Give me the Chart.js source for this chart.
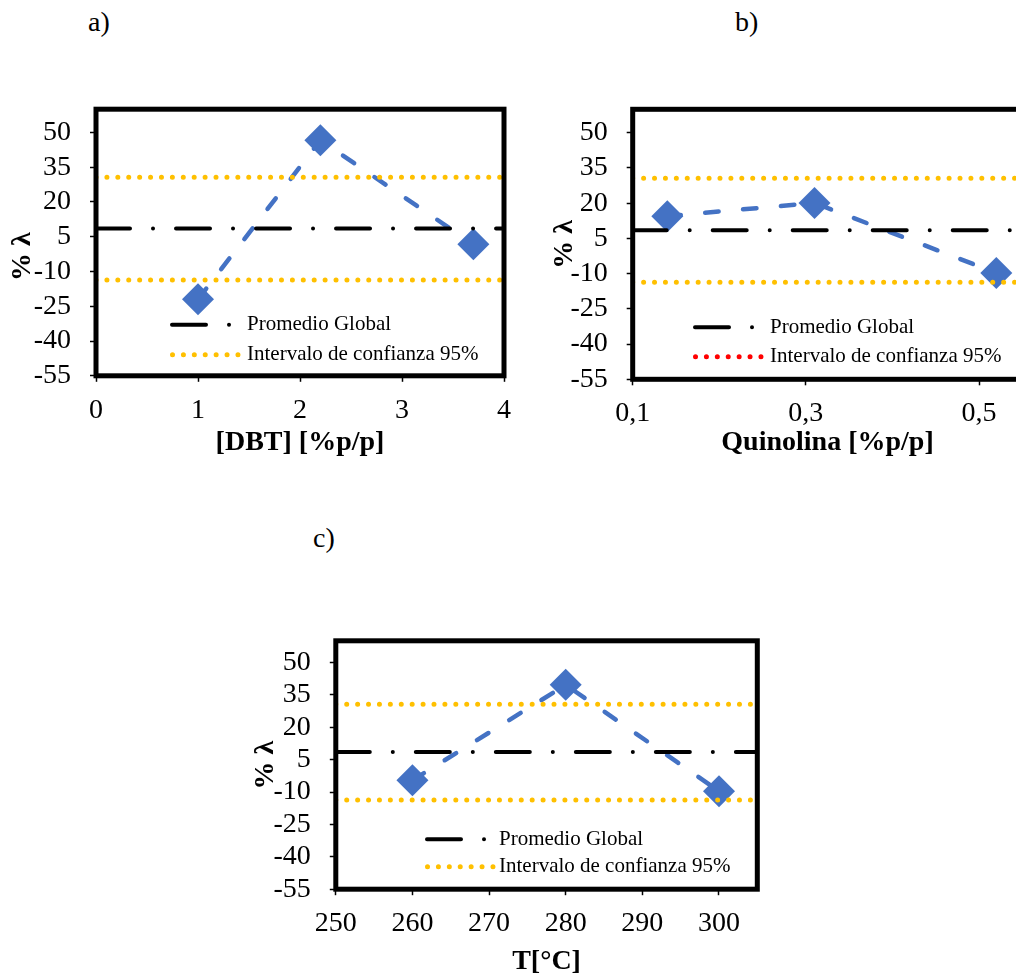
<!DOCTYPE html>
<html>
<head>
<meta charset="utf-8">
<script src="https://cdn.jsdelivr.net/npm/chart.js@4.4.1/dist/chart.umd.min.js"></script>
<style>
  html, body { margin: 0; padding: 0; background: #fff; }
  body { width: 1016px; height: 979px; overflow: hidden; position: relative; font-family: "Liberation Serif", "Times New Roman", serif; }
  canvas { position: absolute; }
  .tag { position: absolute; font-size: 28px; line-height: 28px; color: #000; white-space: nowrap; }
</style>
</head>
<body>
<div class="tag" style="left:88px; top:8px;">a)</div>
<div class="tag" style="left:735px; top:8px;">b)</div>
<div class="tag" style="left:313px; top:524px;">c)</div>

<canvas id="panelDBT" width="520" height="380" style="left:0px; top:90px;"></canvas>
<canvas id="panelQuin" width="500" height="380" style="left:540px; top:90px;"></canvas>
<canvas id="panelTemp" width="540" height="359" style="left:240px; top:620px;"></canvas>

<script>
// Shared response axis (% λ) and reference levels
const lambdaTicks = [-55, -40, -25, -10, 5, 20, 35, 50];
const lambdaMin = -55;
const lambdaMax = 60;
const globalMean = 8.5;
const ciUpper = 30.6;
const ciLower = -13.7;

// a) DBT concentration
const dbtValues = [1, 2.2, 3.7];
const dbtLambda = [-22, 46.6, 1.7];
const dbtTicks = [0, 1, 2, 3, 4];
const dbtTickLabels = ['0', '1', '2', '3', '4'];

// b) Quinoline concentration
const quinValues = [0.14, 0.31, 0.52];
const quinLambda = [14.5, 20.1, -9.7];
const quinTicks = [0.1, 0.3, 0.5];
const quinTickLabels = ['0,1', '0,3', '0,5'];

// c) Temperature
const tempValues = [260, 280, 300];
const tempLambda = [-4.6, 39.6, -9.6];
const tempTicks = [250, 260, 270, 280, 290, 300];
const tempTickLabels = ['250', '260', '270', '280', '290', '300'];

Chart.defaults.font.family = '"Liberation Serif", "Times New Roman", serif';
Chart.defaults.color = '#000';

const FONT_LH = 28 * 1.2;

// Thick black box around the plotting area
const framePlugin = {
  id: 'frame',
  afterDatasetsDraw(chart) {
    const { ctx, chartArea: a } = chart;
    ctx.save();
    ctx.strokeStyle = '#000';
    ctx.lineWidth = 5;
    ctx.setLineDash([]);
    ctx.strokeRect(a.left, a.top, a.right - a.left, a.bottom - a.top);
    ctx.restore();
  }
};

// Legend drawn inside the plotting area, using each dataset's own line style
const insetLegend = {
  id: 'insetLegend',
  afterDraw(chart, args, opts) {
    const { ctx, chartArea: a } = chart;
    const x0 = a.left + opts.left;
    ctx.save();
    ctx.font = '21px "Liberation Serif", "Times New Roman", serif';
    ctx.textBaseline = 'middle';
    ctx.textAlign = 'left';
    chart.data.datasets.forEach(ds => {
      if (ds.legendRow === undefined) return;
      const y = a.bottom - opts.rows[ds.legendRow];
      ctx.strokeStyle = ds.legendColor || ds.borderColor;
      ctx.lineWidth = ds.borderWidth;
      ctx.lineCap = 'round';
      ctx.setLineDash(ds.borderDash || []);
      ctx.beginPath();
      ctx.moveTo(x0 + ds.borderWidth / 2, y);
      ctx.lineTo(x0 + opts.sampleWidth, y);
      ctx.stroke();
      ctx.setLineDash([]);
      ctx.fillStyle = '#000';
      ctx.fillText(ds.label, x0 + opts.textOffset, y);
    });
    ctx.restore();
  }
};

// Fixed axis box sizes; label overhang is already covered by the layout padding
function fixBox(s, key, size) {
  s[key] = size;
  s.paddingTop = 0;
  s.paddingBottom = 0;
  s.paddingLeft = 0;
  s.paddingRight = 0;
}

function drawPanel(id, p) {
  const canvas = document.getElementById(id);
  const W = canvas.width, H = canvas.height;
  const padLeft = p.yTitleX - FONT_LH / 2;
  const padBottom = Math.max(0, H - p.xTitleY - FONT_LH / 2);
  const yAxisWidth = p.area.l - padLeft;
  const xAxisHeight = H - padBottom - p.area.b;

  const level = (y, extra) => Object.assign({
    type: 'line',
    data: [{ x: p.xMin, y: y }, { x: p.xMax, y: y }],
    pointRadius: 0,
    fill: false,
    tension: 0,
    borderCapStyle: 'round'
  }, extra);

  new Chart(canvas, {
    type: 'line',
    data: {
      datasets: [
        level(globalMean, { label: 'Promedio Global', borderColor: '#000000', borderWidth: 4,
          borderDash: [34, 23, 0.01, 23], legendRow: 0 }),
        level(ciUpper, { label: 'Intervalo de confianza 95%', borderColor: '#FFC000', borderWidth: 5,
          borderDash: [0.01, 10.9], legendRow: 1, legendColor: p.ciLegendColor }),
        level(ciLower, { label: 'Intervalo de confianza 95%', borderColor: '#FFC000', borderWidth: 5,
          borderDash: [0.01, 10.9] }),
        {
          label: '% λ',
          data: p.xs.map((x, i) => ({ x: x, y: p.ys[i] })),
          borderColor: '#4472C4',
          backgroundColor: '#4472C4',
          borderWidth: 4.5,
          borderDash: [13.5, 24.5],
          borderCapStyle: 'round',
          borderJoinStyle: 'round',
          pointStyle: 'rectRot',
          pointRadius: 16,
          pointBorderWidth: 0,
          pointBackgroundColor: '#4472C4',
          fill: false,
          tension: 0
        }
      ]
    },
    options: {
      responsive: false,
      animation: false,
      devicePixelRatio: 1,
      events: [],
      layout: {
        padding: { left: padLeft, top: p.area.t, right: W - p.area.r, bottom: padBottom }
      },
      plugins: {
        legend: { display: false },
        tooltip: { enabled: false },
        title: { display: false },
        insetLegend: p.legend
      },
      scales: {
        x: {
          type: 'linear',
          min: p.xMin,
          max: p.xMax,
          afterBuildTicks: s => { s.ticks = p.xTicks.map(v => ({ value: v })); },
          afterFit: s => fixBox(s, 'height', xAxisHeight),
          grid: { drawOnChartArea: false, drawTicks: true, tickLength: 6, tickWidth: 1.5, tickColor: '#000' },
          border: { display: false },
          ticks: {
            autoSkip: false, maxRotation: 0, padding: 11.7, color: '#000',
            font: { size: 28 },
            callback: (v, i) => p.xTickLabels[i]
          },
          title: {
            display: true, text: p.xTitle, color: '#000', padding: 0,
            font: { size: 28, weight: 'bold' }
          }
        },
        y: {
          type: 'linear',
          min: lambdaMin,
          max: lambdaMax,
          afterBuildTicks: s => { s.ticks = lambdaTicks.map(v => ({ value: v })); },
          afterFit: s => fixBox(s, 'width', yAxisWidth),
          grid: { drawOnChartArea: false, drawTicks: true, tickLength: 6, tickWidth: 1.5, tickColor: '#000' },
          border: { display: false },
          ticks: {
            autoSkip: false, padding: 19, color: '#000',
            font: { size: 28 }
          },
          title: {
            display: true, text: p.yTitle, color: '#000', padding: 0,
            font: { size: 28, weight: 'bold' }
          }
        }
      }
    },
    plugins: [framePlugin, insetLegend]
  });
}

drawPanel('panelDBT', {
  xs: dbtValues, ys: dbtLambda,
  xMin: 0, xMax: 4, xTicks: dbtTicks, xTickLabels: dbtTickLabels,
  xTitle: '[DBT] [%p/p]',
  // trailing no-break spaces push this rotated title a little lower on the axis
  yTitle: '% λ\u00A0\u00A0\u00A0\u00A0',
  area: { l: 96, t: 19.2, r: 509, b: 285.8 },
  yTitleX: 23, xTitleY: 353,
  legend: { left: 74, rows: [51, 21], textOffset: 77, sampleWidth: 68 }
});

drawPanel('panelQuin', {
  xs: quinValues, ys: quinLambda,
  xMin: 0.1, xMax: 0.55, xTicks: quinTicks, xTickLabels: quinTickLabels,
  xTitle: 'Quinolina [%p/p]',
  yTitle: '% λ',
  area: { l: 92.7, t: 19.3, r: 482.3, b: 289.3 },
  yTitleX: 25, xTitleY: 352.7,
  ciLegendColor: '#FF0000',
  legend: { left: 60.3, rows: [52, 22.6], textOffset: 77, sampleWidth: 68 }
});

drawPanel('panelTemp', {
  xs: tempValues, ys: tempLambda,
  xMin: 250, xMax: 305, xTicks: tempTicks, xTickLabels: tempTickLabels,
  xTitle: 'T[°C]',
  yTitle: '% λ',
  area: { l: 95.8, t: 20.8, r: 517.3, b: 269.2 },
  yTitleX: 25.7, xTitleY: 342.3,
  legend: { left: 89.2, rows: [50, 22.5], textOffset: 74, sampleWidth: 68 }
});
</script>
</body>
</html>
